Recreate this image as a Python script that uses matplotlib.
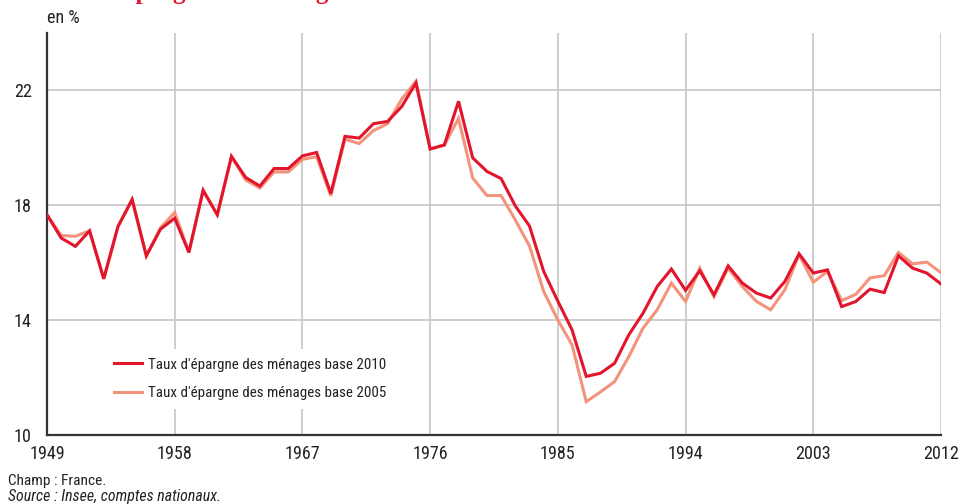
import matplotlib
matplotlib.use("Agg")
import matplotlib.pyplot as plt
from matplotlib import font_manager

years = list(range(1949, 2013))

base_2010 = [17.67, 16.86, 16.57, 17.11, 15.44, 17.26, 18.2, 16.24, 17.17, 17.55,
             16.36, 18.52, 17.67, 19.7, 18.97, 18.67, 19.28, 19.28, 19.72, 19.84,
             18.41, 20.4, 20.34, 20.84, 20.92, 21.44, 22.26, 19.96, 20.1, 21.62,
             19.65, 19.18, 18.93, 17.98, 17.28, 15.7, 14.66, 13.66, 12.04, 12.15,
             12.5, 13.49, 14.24, 15.17, 15.78, 15.04, 15.72, 14.88, 15.89, 15.29,
             14.94, 14.77, 15.35, 16.31, 15.64, 15.75, 14.47, 14.65, 15.08, 14.96,
             16.24, 15.81, 15.64, 15.26]

base_2005 = [17.67, 16.95, 16.92, 17.11, 15.44, 17.26, 18.2, 16.24, 17.22, 17.75,
             16.36, 18.52, 17.67, 19.7, 18.88, 18.6, 19.16, 19.16, 19.6, 19.69,
             18.33, 20.3, 20.15, 20.6, 20.84, 21.7, 22.32, 19.96, 20.1, 21.02,
             18.95, 18.34, 18.34, 17.49, 16.58, 15.0, 14.0, 13.14, 11.16, 11.5,
             11.86, 12.73, 13.72, 14.36, 15.29, 14.65, 15.81, 14.82, 15.81, 15.17,
             14.65, 14.36, 15.06, 16.28, 15.32, 15.7, 14.68, 14.9, 15.47, 15.55,
             16.36, 15.96, 16.02, 15.65]

x_ticks = [1949, 1958, 1967, 1976, 1985, 1994, 2003, 2012]
y_ticks = [10, 14, 18, 22]
labels = ["Taux d'épargne des ménages base 2010",
          "Taux d'épargne des ménages base 2005"]

available = {f.name for f in font_manager.fontManager.ttflist}
condensed = None
for cand in ["Liberation Sans Narrow", "Roboto Condensed", "Arial Narrow",
             "Open Sans Condensed", "DejaVu Sans Condensed"]:
    if cand in available:
        condensed = cand
        break
if condensed is None:
    condensed = "Liberation Sans"
    scale = 0.88
else:
    scale = 1.0
plt.rcParams['font.family'] = [condensed, 'DejaVu Sans']

RED = "#e3152c"
SALMON = "#f4937c"
GRID = "#c9c9c9"
TXT = "#222222"

fig = plt.figure(figsize=(9.62, 5.04), dpi=100)
ax = fig.add_axes([47/962, 1-435/504, (941-47)/962, (435-33)/504])

ax.plot(years, base_2005, color=SALMON, lw=2.2, label=labels[1], zorder=3,
        solid_joinstyle='miter')
ax.plot(years, base_2010, color=RED, lw=2.2, label=labels[0], zorder=4,
        solid_joinstyle='miter')

ax.set_xlim(1949, 2012)
ax.set_ylim(10, 24)
ax.set_xticks(x_ticks)
ax.set_yticks(y_ticks)
ax.tick_params(length=0, labelsize=13.1 * scale, colors=TXT)
ax.tick_params(axis='x', pad=7)
ax.tick_params(axis='y', pad=11)
ax.grid(True, color=GRID, lw=1.3)
ax.set_axisbelow(True)
for s in ['top', 'right']:
    ax.spines[s].set_visible(False)
for s in ['left', 'bottom']:
    ax.spines[s].set_color('#333333')
    ax.spines[s].set_linewidth(1.6)

h, l = ax.get_legend_handles_labels()
leg = ax.legend([h[1], h[0]], [l[1], l[0]], loc='upper left',
                bbox_to_anchor=(0.065, 0.215), borderaxespad=0, borderpad=0.6,
                frameon=True, facecolor='white', edgecolor='none', framealpha=1,
                fontsize=10.8 * scale, handlelength=1.85, handletextpad=0.4,
                labelspacing=0.95, labelcolor=TXT)
leg.set_zorder(5)

fig.text(47/962, 1-18/504, "en %", fontsize=13 * scale, color=TXT, va='center', ha='left')
fig.text(8/962, 1-481/504, "Champ : France.", fontsize=11.1 * scale, color=TXT, va='center')
fig.text(8/962, 1-497/504, "Source : Insee, comptes nationaux.", fontsize=11.4 * scale,
         color=TXT, va='center', style='italic')
fig.text(44/962, 1+1/504, "Taux d'épargne des ménages", fontsize=18,
         fontweight='bold', color=RED, va='baseline', ha='left',
         family=['Liberation Serif', 'DejaVu Serif'])

fig.savefig("out.png", dpi=100)
